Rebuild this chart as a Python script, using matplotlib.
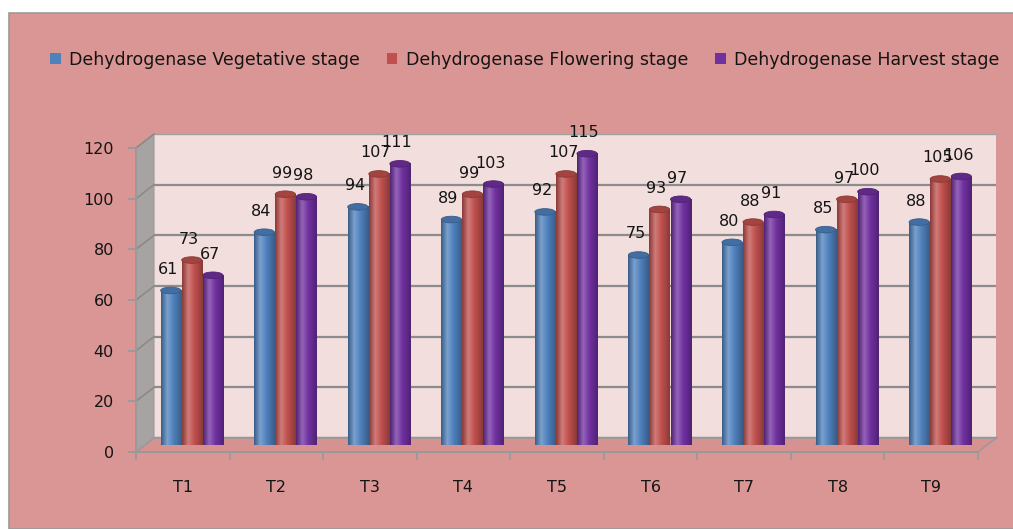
import numpy as np
import matplotlib as mpl
from matplotlib import pyplot as plt
from matplotlib.patches import Rectangle, Polygon, Ellipse
from matplotlib.colors import LinearSegmentedColormap, to_rgb

categories = ['T1', 'T2', 'T3', 'T4', 'T5', 'T6', 'T7', 'T8', 'T9']
vegetative = [61, 84, 94, 89, 92, 75, 80, 85, 88]
flowering = [73, 99, 107, 99, 107, 93, 88, 97, 105]
harvest = [67, 98, 111, 103, 115, 97, 91, 100, 106]
series_names = ['Dehydrogenase Vegetative stage',
                'Dehydrogenase Flowering stage',
                'Dehydrogenase Harvest stage']
yticks = [0, 20, 40, 60, 80, 100, 120]

colors = ['#4F81BD', '#C0504D', '#7030A0']
bg_pink = '#D99694'
wall_pink = '#F2DEDD'
grid_gray = '#8C8C8C'
text_col = '#141414'

W, H = 1013, 529
fig = plt.figure(figsize=(W / 100, H / 100), dpi=100, facecolor='white')


def px_axes(x0, y_top, x1, y_bot):
    return fig.add_axes([x0 / W, 1 - y_bot / H, (x1 - x0) / W, (y_bot - y_top) / H])


# chart area
fig.patches.append(Rectangle((9 / W, 0), 1, 1 - 13 / H, transform=fig.transFigure,
                             facecolor=bg_pink, edgecolor='#9A9A9A', lw=1.2, zorder=-5))

# front (axis) plane, back wall, bar plane
fx0, fx1, fy_top, fy_bot = 136, 978, 148, 452
dx, dy = 18, 14
ax_back = px_axes(fx0 + dx, fy_top - dy, fx1 + dx, fy_bot - dy)
ax = px_axes(fx0, fy_top, fx1, fy_bot)
ax_bar = px_axes(fx0 + dx / 2, fy_top - dy / 2, fx1 + dx / 2, fy_bot - dy / 2)

n = len(categories)
for a in (ax_back, ax, ax_bar):
    a.set_xlim(-0.5, n - 0.5)
    a.set_ylim(0, 120)

# back wall
ax_back.set_facecolor(wall_pink)
ax_back.set_yticks(yticks)
ax_back.yaxis.grid(True, color=grid_gray, lw=1.6)
ax_back.tick_params(left=False, bottom=False, labelleft=False, labelbottom=False)
for s in ax_back.spines.values():
    s.set_visible(False)
ax_back.spines['top'].set_visible(True)
ax_back.spines['top'].set_color('#A0A0A0')
ax_back.spines['bottom'].set_visible(True)
ax_back.spines['bottom'].set_color(grid_gray)
ax_back.spines['bottom'].set_linewidth(1.6)
ax_back.set_zorder(0)

# front axis: left wall, floor, ticks
ax.patch.set_visible(False)
ax.set_zorder(1)
dxf = dx / (fx1 - fx0)
dyf = dy / (fy_bot - fy_top)
left_wall = Polygon([(0, 0), (0, 1), (dxf, 1 + dyf), (dxf, dyf)], closed=True,
                    transform=ax.transAxes, facecolor='#A7A3A3', edgecolor='#999999',
                    lw=0.8, clip_on=False, zorder=0)
ax.add_patch(left_wall)
floor = Polygon([(0, 0), (1, 0), (1 + dxf, dyf), (dxf, dyf)], closed=True,
                transform=ax.transAxes, facecolor='#D69290', edgecolor='#9A9A9A',
                lw=1.2, clip_on=False, zorder=0.5)
ax.add_patch(floor)
for v in yticks[1:]:
    f = v / 120
    ax.plot([0, dxf], [f, f + dyf], transform=ax.transAxes, color='#8A8A8A',
            lw=1.2, clip_on=False, zorder=1)

for name in ('top', 'right'):
    ax.spines[name].set_visible(False)
for name in ('left', 'bottom'):
    ax.spines[name].set_color('#9A9A9A')
    ax.spines[name].set_linewidth(1.4)
ax.set_yticks(yticks)
ax.set_yticklabels([str(v) for v in yticks], fontsize=11.5, color=text_col)
ax.set_xticks(np.arange(-0.5, n, 1.0))
ax.set_xticklabels([])
ax.set_xticks(np.arange(n), minor=True)
ax.set_xticklabels(categories, minor=True, fontsize=11.5, color=text_col)
ax.tick_params(axis='y', length=6, width=1.4, color='#9A9A9A', pad=10)
ax.tick_params(axis='x', which='major', length=6, width=1.4, color='#9A9A9A', direction='out')
ax.tick_params(axis='x', which='minor', length=0, pad=20)

# bars as cylinders
ax_bar.patch.set_visible(False)
ax_bar.axis('off')
ax_bar.set_zorder(2)
x = np.arange(n)
bw = 0.225
grad = np.linspace(0, 1, 64).reshape(1, -1)
for k, (vals, col) in enumerate(zip([vegetative, flowering, harvest], colors)):
    base = np.array(to_rgb(col))
    dark = base * 0.72
    light = np.clip(base + (1 - base) * 0.25, 0, 1)
    cmap = LinearSegmentedColormap.from_list('cyl%d' % k, [(0, dark), (0.3, light), (0.6, base), (1, dark)])
    xs = x + (k - 1) * bw
    bars = ax_bar.bar(xs, vals, width=bw * 0.96, color='none', edgecolor='none')
    for rect, v, xc in zip(bars, vals, xs):
        ax_bar.imshow(grad, cmap=cmap, aspect='auto',
                      extent=(xc - bw * 0.48, xc + bw * 0.48, 0, v),
                      clip_path=rect, zorder=2)
        ax_bar.add_patch(Ellipse((xc, v), bw * 0.96, 2.6, facecolor=tuple(base * 0.85),
                                 edgecolor=tuple(dark), lw=0.6, zorder=3))
        ax_bar.add_patch(Ellipse((xc, 0), bw * 0.96, 2.0, facecolor=tuple(dark),
                                 edgecolor='none', zorder=1.9))
        ax_bar.annotate(str(v), (xc, v), xytext=(-3, 21), textcoords='offset pixels',
                        ha='center', va='center', fontsize=11.5, color=text_col,
                        annotation_clip=False, zorder=4)
ax_bar.set_xlim(-0.5, n - 0.5)
ax_bar.set_ylim(0, 120)

# legend
handles = [Rectangle((0, 0), 1, 1, facecolor=c, edgecolor='none') for c in colors]
fig.legend(handles, series_names, loc='center', bbox_to_anchor=(525 / W, 1 - 60 / H),
           ncol=3, frameon=False, fontsize=12.5, handlelength=0.6, handleheight=0.6,
           handletextpad=0.5, columnspacing=1.55, labelcolor=text_col)

fig.savefig('out.png', dpi=100, facecolor=fig.get_facecolor())
